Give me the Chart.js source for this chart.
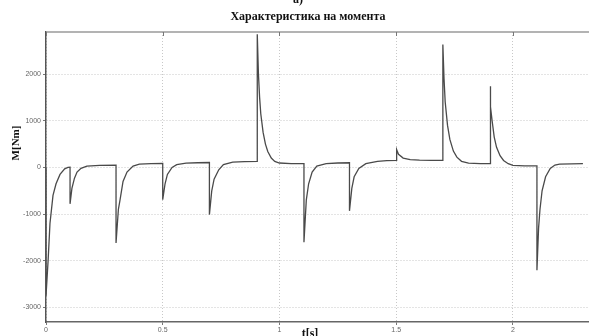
<!DOCTYPE html>
<html>
<head>
<meta charset="utf-8">
<script src="https://cdn.jsdelivr.net/npm/chart.js@4/dist/chart.umd.min.js"></script>
<style>
  html, body { margin: 0; padding: 0; background: #fff; }
  #wrap { width: 589px; height: 336px; position: relative; }
</style>
</head>
<body>
<div id="wrap"><canvas id="c" width="589" height="336"></canvas></div>
<script>
// ---- data ----
const chartTitle = 'Характеристика на момента';
const panelLabel = 'а)';
const xAxisLabel = 't[s]';
const yAxisLabel = 'M[Nm]';

// time [s]
const timeValues = [
  0.000, 0.000, 0.009, 0.017, 0.030, 0.043, 0.060, 0.080, 0.094, 0.103,
  0.103, 0.111, 0.122, 0.133, 0.150, 0.175, 0.230, 0.300,
  0.300, 0.310, 0.317, 0.330, 0.347, 0.373, 0.400, 0.450, 0.500,
  0.500, 0.510, 0.520, 0.540, 0.560, 0.600, 0.650, 0.700,
  0.700, 0.710, 0.720, 0.740, 0.760, 0.800, 0.850, 0.905,
  0.905, 0.910, 0.915, 0.920, 0.930, 0.940, 0.950, 0.965, 0.980, 1.000, 1.050, 1.105,
  1.105, 1.115, 1.125, 1.140, 1.160, 1.200, 1.250, 1.300,
  1.300, 1.310, 1.320, 1.340, 1.370, 1.420, 1.460, 1.502,
  1.502, 1.510, 1.530, 1.560, 1.600, 1.650, 1.700,
  1.700, 1.705, 1.710, 1.720, 1.730, 1.745, 1.760, 1.780, 1.810, 1.860, 1.902,
  1.902, 1.906, 1.911, 1.920, 1.930, 1.945, 1.960, 1.980, 2.000, 2.050, 2.103,
  2.103, 2.110, 2.116, 2.125, 2.140, 2.160, 2.180, 2.200, 2.250, 2.300
];
// torque M [Nm]
const torqueValues = [
  0, -2750, -2000, -1200, -600, -350, -150, -30, 0, 5,
  -780, -450, -230, -100, -20, 30, 45, 50,
  -1620, -900, -700, -300, -100, 30, 70, 80, 85,
  -690, -350, -150, 0, 60, 90, 100, 105,
  -1010, -500, -250, -50, 60, 115, 125, 130,
  2850, 2000, 1500, 1150, 750, 500, 340, 200, 130, 95, 82, 80,
  -1600, -700, -350, -100, 30, 80, 95, 100,
  -930, -450, -200, -20, 80, 130, 145, 150,
  380, 280, 200, 165, 155, 152, 150,
  2630, 1900, 1400, 900, 600, 350, 220, 130, 90, 80, 80,
  1740, 1300, 1000, 650, 430, 250, 150, 80, 45, 35, 35,
  -2200, -1300, -900, -500, -200, -20, 50, 70, 78, 80
];

const xTickValues = [0, 0.5, 1, 1.5, 2];
const yTickValues = [-3000, -2000, -1000, 0, 1000, 2000];
const xRange = [0, 2.326];
const yRange = [-3310, 2900];

const points = timeValues.map((t, i) => ({ x: t, y: torqueValues[i] }));

const textPlugin = {
  id: 'extraText',
  afterDraw(chart) {
    const ctx = chart.ctx;
    const a = chart.chartArea;
    ctx.save();
    // top frame line
    ctx.strokeStyle = '#9a9a9a';
    ctx.lineWidth = 1.5;
    ctx.beginPath();
    ctx.moveTo(a.left, a.top);
    ctx.lineTo(a.right, a.top);
    ctx.stroke();
    // top tick marks (inward)
    const xs = chart.scales.x;
    ctx.strokeStyle = '#777';
    ctx.lineWidth = 1;
    xTickValues.forEach(v => {
      const px = Math.round(xs.getPixelForValue(v)) + 0.5;
      ctx.beginPath();
      ctx.moveTo(px, a.top);
      ctx.lineTo(px, a.top + 4);
      ctx.stroke();
    });
    ctx.fillStyle = '#111';
    ctx.textAlign = 'center';
    ctx.textBaseline = 'middle';
    ctx.font = 'bold 12px "Liberation Serif"';
    ctx.fillText(chartTitle, 308, 17);
    ctx.fillText(panelLabel, 298, 0);
    ctx.fillText(xAxisLabel, 310, 334);
    ctx.translate(16, 143);
    ctx.rotate(-Math.PI / 2);
    ctx.font = 'bold 11px "Liberation Serif"';
    ctx.fillText(yAxisLabel, 0, 0);
    ctx.restore();
  }
};

new Chart(document.getElementById('c'), {
  type: 'line',
  data: {
    datasets: [{
      data: points,
      borderColor: '#4a4a4a',
      borderWidth: 1.3,
      pointRadius: 0,
      tension: 0,
      fill: false
    }]
  },
  options: {
    responsive: false,
    animation: false,
    devicePixelRatio: 1,
    layout: { padding: { left: 0, right: 0, top: 32, bottom: 0 } },
    plugins: {
      legend: { display: false },
      tooltip: { enabled: false },
      title: { display: false }
    },
    scales: {
      x: {
        type: 'linear',
        min: xRange[0],
        max: xRange[1],
        afterBuildTicks(s) { s.ticks = xTickValues.map(v => ({ value: v })); },
        afterFit(s) { s.height = 14; },
        ticks: {
          color: '#666',
          font: { family: 'Liberation Sans', size: 7 },
          padding: 1,
          maxRotation: 0,
          autoSkip: false,
          callback: v => String(v)
        },
        grid: {
          color: '#c8c8c8',
          lineWidth: 1,
          tickLength: 3,
          tickColor: '#777'
        },
        border: { display: true, color: '#666', width: 1.5, dash: [1, 2] }
      },
      y: {
        type: 'linear',
        min: yRange[0],
        max: yRange[1],
        afterBuildTicks(s) { s.ticks = yTickValues.map(v => ({ value: v })); },
        afterFit(s) { s.width = 46; },
        ticks: {
          color: '#666',
          font: { family: 'Liberation Sans', size: 7 },
          padding: 2,
          callback: v => String(v)
        },
        grid: {
          color: '#c8c8c8',
          lineWidth: 1,
          tickLength: 3,
          tickColor: '#777'
        },
        border: { display: true, color: '#555', width: 1.5, dash: [1, 2] }
      }
    }
  },
  plugins: [textPlugin]
});
</script>
</body>
</html>
